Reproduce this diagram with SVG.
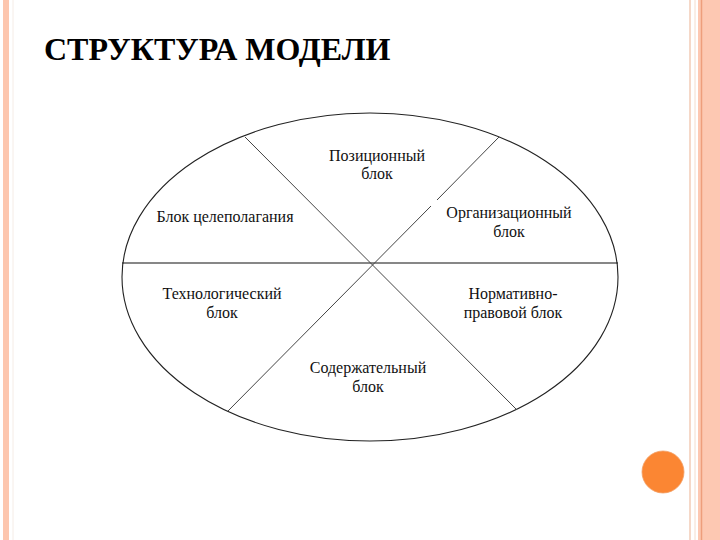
<svg xmlns="http://www.w3.org/2000/svg" width="720" height="540" viewBox="0 0 720 540">
<g id="border">
<rect x="3" y="0" width="6" height="540" fill="#fdc6ae"/>
<line x1="13" y1="0" x2="13" y2="540" stroke="#f5ece6" stroke-width="1"/>
<line x1="690" y1="0" x2="690" y2="540" stroke="#f2cbb6" stroke-width="1.5"/>
<line x1="695" y1="0" x2="695" y2="540" stroke="#f4dccd" stroke-width="1"/>
<rect x="698" y="0" width="22" height="540" fill="#fdc8b2"/>
<line x1="701.5" y1="0" x2="701.5" y2="540" stroke="#ee9e7c" stroke-width="1.5"/>
</g>
<circle id="dot" cx="663" cy="472" r="21" fill="#fb8633" stroke="#f3a066" stroke-width="0.8"/>
<text x="44" y="60" font-size="32" font-weight="bold" fill="#000" font-family="'Times New Roman', 'Liberation Serif', serif">СТРУКТУРА МОДЕЛИ</text>
<g id="model">
<ellipse cx="370" cy="277" rx="248" ry="164" fill="none" stroke="#222" stroke-width="1.1"/>
</g>
<g id="connectors" stroke="#444" stroke-width="1" fill="none">
<line x1="122" y1="263" x2="618" y2="263" stroke="#111" stroke-width="1.2"/>
<line x1="245" y1="137" x2="517" y2="410"/>
<line x1="499" y1="137" x2="437" y2="200"/>
<line x1="431" y1="206" x2="227" y2="412"/>
</g>
<g id="n-pos"><text x="377" y="161" font-size="16" fill="#111" text-anchor="middle" font-family="'Times New Roman', 'Liberation Serif', serif">Позиционный</text><text x="377" y="179" font-size="16" fill="#111" text-anchor="middle" font-family="'Times New Roman', 'Liberation Serif', serif">блок</text></g>
<g id="n-goal"><text x="225" y="222" font-size="16" fill="#111" text-anchor="middle" font-family="'Times New Roman', 'Liberation Serif', serif">Блок целеполагания</text></g>
<g id="n-org"><text x="509" y="218" font-size="16" fill="#111" text-anchor="middle" font-family="'Times New Roman', 'Liberation Serif', serif">Организационный</text><text x="509" y="237" font-size="16" fill="#111" text-anchor="middle" font-family="'Times New Roman', 'Liberation Serif', serif">блок</text></g>
<g id="n-tech"><text x="222" y="299" font-size="16" fill="#111" text-anchor="middle" font-family="'Times New Roman', 'Liberation Serif', serif">Технологический</text><text x="222" y="318" font-size="16" fill="#111" text-anchor="middle" font-family="'Times New Roman', 'Liberation Serif', serif">блок</text></g>
<g id="n-norm"><text x="513" y="299" font-size="16" fill="#111" text-anchor="middle" font-family="'Times New Roman', 'Liberation Serif', serif">Нормативно-</text><text x="513" y="318" font-size="16" fill="#111" text-anchor="middle" font-family="'Times New Roman', 'Liberation Serif', serif">правовой блок</text></g>
<g id="n-cont"><text x="368" y="373" font-size="16" fill="#111" text-anchor="middle" font-family="'Times New Roman', 'Liberation Serif', serif">Содержательный</text><text x="368" y="392" font-size="16" fill="#111" text-anchor="middle" font-family="'Times New Roman', 'Liberation Serif', serif">блок</text></g>
</svg>
